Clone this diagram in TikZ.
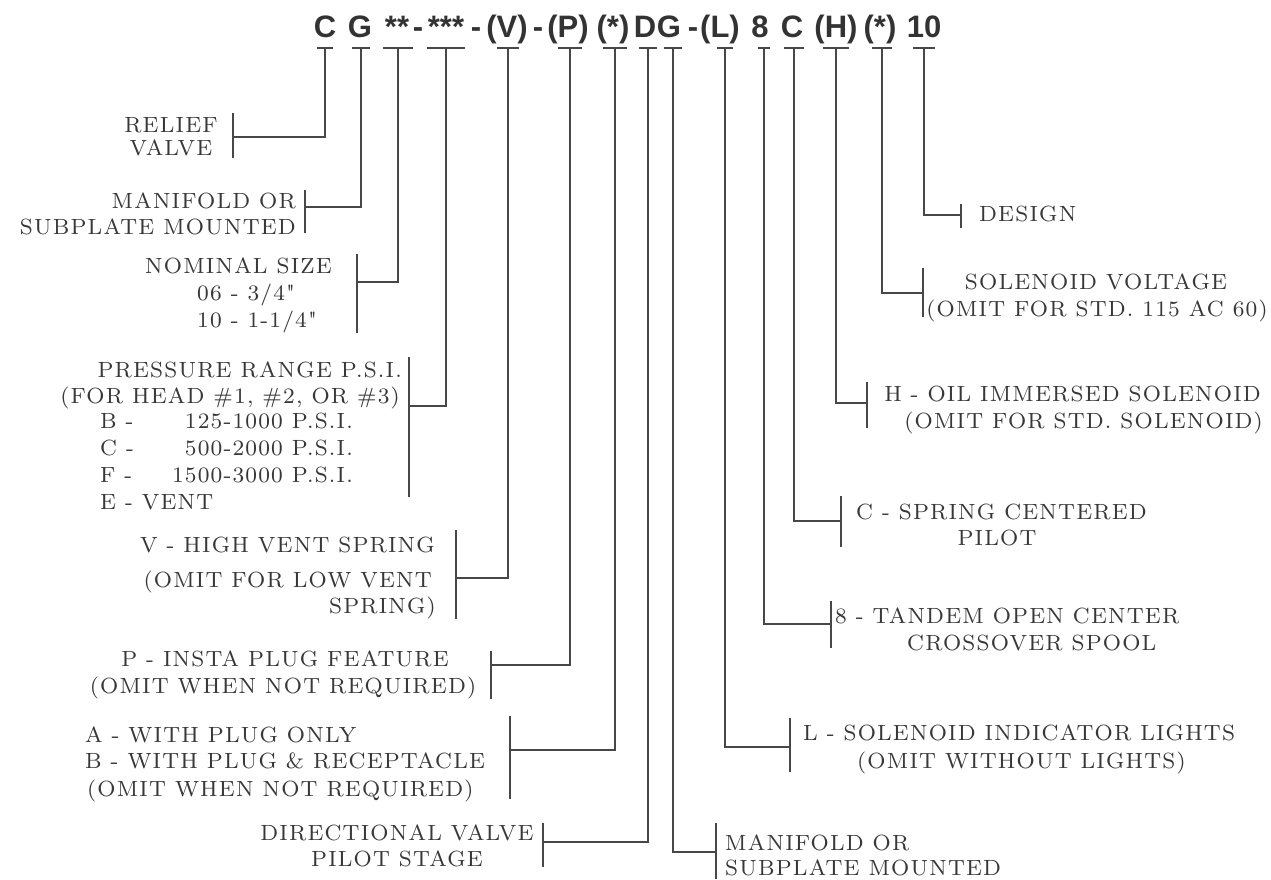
\documentclass[tikz,border=0pt]{standalone}
\usepackage{fontspec}
\newfontfamily\titlefont{Liberation Sans}
\newfontfamily\lblfont{lmroman8-regular.otf}[LetterSpace=5.5,Ligatures=TeXOff]
\tikzset{
  ln/.style={line width=1.4pt, draw=black!72, line join=miter},
  lbl/.style={inner sep=0pt, text=black!78, font=\lblfont\fontsize{22}{26}\selectfont},
  ttl/.style={inner sep=0pt, anchor=base, text=black!80, font=\titlefont\bfseries\fontsize{31}{31}\selectfont},
}
% #1 name, #2 tick x, #3 bar x, #4 junction y, #5 bar top, #6 bar bottom, #7 half width of T
\newcommand\leader[7]{%
  \coordinate (#1-t) at (#2,48);
  \coordinate (#1-tl) at (#2-#7,48);
  \coordinate (#1-tr) at (#2+#7,48);
  \coordinate (#1-j) at (#3,#4);
  \coordinate (#1-a) at (#3,#5);
  \coordinate (#1-b) at (#3,#6);
  \draw[ln] (#1-tl) -- (#1-tr);
  \draw[ln] (#1-t) |- (#1-j);
  \draw[ln] (#1-a) -- (#1-b);
}
\begin{document}
\begin{tikzpicture}[x=1pt,y=-1pt]
\fill[white] (0,0) rectangle (1271,879);
\useasboundingbox (0,0) rectangle (1271,879);

% title
\node[ttl] (hC)  at (325,37) {C};
\node[ttl] (hG)  at (360,37) {G};
\node[ttl] (hS2) at (397,37) {**};
\node[ttl] (hd1) at (418,37) {-};
\node[ttl] (hS3) at (446,37) {***};
\node[ttl] (hd2) at (476,37) {-};
\node[ttl] (hV)  at (507,37) {(V)};
\node[ttl] (hd3) at (538,37) {-};
\node[ttl] (hP)  at (568,37) {(P)};
\node[ttl] (hA)  at (613,37) {(*)};
\node[ttl] (hD)  at (645,37) {D};
\node[ttl] (hG2) at (669,37) {G};
\node[ttl] (hd4) at (693,37) {-};
\node[ttl] (hL)  at (720,37) {(L)};
\node[ttl] (h8)  at (760,37) {8};
\node[ttl] (hC2) at (792,37) {C};
\node[ttl] (hH)  at (836,37) {(H)};
\node[ttl] (hA2) at (880,37) {(*)};
\node[ttl] (h10) at (924,37) {10};

% leaders
\leader{C}{325}{233}{137}{113}{158}{8}
\leader{G}{361}{305}{207}{190}{233}{9}
\leader{S2}{398}{357}{282}{254}{333}{15}
\leader{S3}{446}{409}{406}{357}{497}{19}
\leader{V}{508}{456}{578}{530}{619}{11}
\leader{P}{570}{491}{665}{651}{699}{12}
\leader{A}{615}{510}{750}{716}{799}{12}
\leader{D}{648}{543}{842}{823}{867}{9}
\leader{GG}{673}{716}{852}{823}{879}{9}
\leader{L}{725}{790}{747}{718}{772}{8}
\leader{E}{764}{831}{624}{601}{648}{6}
\leader{CC}{794}{841}{521}{496}{547}{10}
\leader{H}{836}{867}{403}{382}{428}{13}
\leader{AA}{882}{923}{293}{268}{317}{10}
\leader{T}{924}{961}{215}{204}{228}{11}

% left labels
\node[lbl,anchor=base] (l1a) at (171,132) {RELIEF};
\node[lbl,anchor=base] (l1b) at (171,155) {VALVE};
\node[lbl,anchor=base east] (l2a) at (296,208) {MANIFOLD OR};
\node[lbl,anchor=base east] (l2b) at (296,234) {SUBPLATE MOUNTED};
\node[lbl,anchor=base east] (l3a) at (332,273) {NOMINAL SIZE};
\node[lbl,anchor=base west] (l3b) at (197,300) {06 - 3/4"};
\node[lbl,anchor=base west] (l3c) at (197,327) {10 - 1-1/4"};
\node[lbl,anchor=base east] (l4a) at (402,377) {PRESSURE RANGE P.S.I.};
\node[lbl,anchor=base east] (l4b) at (400,403) {(FOR HEAD \#1, \#2, OR \#3)};
\node[lbl,anchor=base west] (l4c) at (100,428) {B -};
\node[lbl,anchor=base east] (l4d) at (353,428) {125-1000 P.S.I.};
\node[lbl,anchor=base west] (l4e) at (100,455) {C -};
\node[lbl,anchor=base east] (l4f) at (353,455) {500-2000 P.S.I.};
\node[lbl,anchor=base west] (l4g) at (100,482) {F -};
\node[lbl,anchor=base east] (l4h) at (353,482) {1500-3000 P.S.I.};
\node[lbl,anchor=base west] (l4i) at (100,509) {E - VENT};
\node[lbl,anchor=base east] (l5a) at (435,552) {V - HIGH VENT SPRING};
\node[lbl,anchor=base east] (l5b) at (432,587) {(OMIT FOR LOW VENT};
\node[lbl,anchor=base east] (l5c) at (436,613) {SPRING)};
\node[lbl,anchor=base] (l6a) at (285,666) {P - INSTA PLUG FEATURE};
\node[lbl,anchor=base] (l6b) at (283,693) {(OMIT WHEN NOT REQUIRED)};
\node[lbl,anchor=base west] (l7a) at (85,742) {A - WITH PLUG ONLY};
\node[lbl,anchor=base west] (l7b) at (85,768) {B - WITH PLUG \& RECEPTACLE};
\node[lbl,anchor=base west] (l7c) at (87,796) {(OMIT WHEN NOT REQUIRED)};
\node[lbl,anchor=base] (l8a) at (397,840) {DIRECTIONAL VALVE};
\node[lbl,anchor=base] (l8b) at (397,866) {PILOT STAGE};

% right labels
\node[lbl,anchor=base west] (r1) at (979,221) {DESIGN};
\node[lbl,anchor=base] (r2a) at (1096,289) {SOLENOID VOLTAGE};
\node[lbl,anchor=base] (r2b) at (1097,316) {(OMIT FOR STD.\ 115 AC 60)};
\node[lbl,anchor=base east] (r3a) at (1261,401) {H - OIL IMMERSED SOLENOID};
\node[lbl,anchor=base east] (r3b) at (1263,428) {(OMIT FOR STD.\ SOLENOID)};
\node[lbl,anchor=base west] (r4a) at (856,519) {C - SPRING CENTERED};
\node[lbl,anchor=base] (r4b) at (997,545) {PILOT};
\node[lbl,anchor=base west] (r5a) at (835,623) {8 - TANDEM OPEN CENTER};
\node[lbl,anchor=base west] (r5b) at (907,650) {CROSSOVER SPOOL};
\node[lbl,anchor=base west] (r6a) at (803,740) {L - SOLENOID INDICATOR LIGHTS};
\node[lbl,anchor=base west] (r6b) at (857,768) {(OMIT WITHOUT LIGHTS)};
\node[lbl,anchor=base west] (r7a) at (725,850) {MANIFOLD OR};
\node[lbl,anchor=base west] (r7b) at (725,875) {SUBPLATE MOUNTED};
\end{tikzpicture}
\end{document}
